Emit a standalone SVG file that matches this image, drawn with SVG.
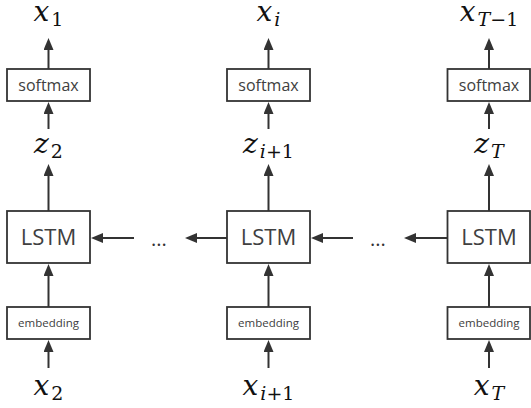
<svg xmlns="http://www.w3.org/2000/svg" width="531" height="408" viewBox="0 0 531 408">
<style>
.box{fill:#fff;stroke:#333;stroke-width:1.8}
.lbl{font-family:"Open Sans","Noto Sans",sans-serif;fill:#404040;text-anchor:middle}
.sm{font-size:16px}
.ls{font-size:22px}
.em{font-size:11.5px}
.math{font-family:"DejaVu Serif","Liberation Serif",serif;font-size:28px;fill:#111;text-anchor:middle}
.it{font-style:italic}
.sub{font-size:19px}
.conn line{stroke:#333;stroke-width:2}
.dots{font-family:"Open Sans",sans-serif;font-size:20px;fill:#333;text-anchor:middle}
</style>
<defs>
<marker id="ah" markerUnits="userSpaceOnUse" markerWidth="12" markerHeight="10" refX="5" refY="5" orient="auto">
<path d="M0,0 L12,5 L0,10 z" fill="#333"/>
</marker>
</defs>
<g class="conn">
<line x1="48.5" y1="69" x2="48.5" y2="45" marker-end="url(#ah)"/>
<line x1="48.5" y1="129" x2="48.5" y2="109" marker-end="url(#ah)"/>
<line x1="48.5" y1="211" x2="48.5" y2="171" marker-end="url(#ah)"/>
<line x1="48.5" y1="307" x2="48.5" y2="271" marker-end="url(#ah)"/>
<line x1="48.5" y1="368" x2="48.5" y2="347" marker-end="url(#ah)"/>
<line x1="268.5" y1="69" x2="268.5" y2="45" marker-end="url(#ah)"/>
<line x1="268.5" y1="129" x2="268.5" y2="109" marker-end="url(#ah)"/>
<line x1="268.5" y1="211" x2="268.5" y2="171" marker-end="url(#ah)"/>
<line x1="268.5" y1="307" x2="268.5" y2="271" marker-end="url(#ah)"/>
<line x1="268.5" y1="368" x2="268.5" y2="347" marker-end="url(#ah)"/>
<line x1="489" y1="69" x2="489" y2="45" marker-end="url(#ah)"/>
<line x1="489" y1="129" x2="489" y2="109" marker-end="url(#ah)"/>
<line x1="489" y1="211" x2="489" y2="171" marker-end="url(#ah)"/>
<line x1="489" y1="307" x2="489" y2="271" marker-end="url(#ah)"/>
<line x1="489" y1="368" x2="489" y2="347" marker-end="url(#ah)"/>
<line x1="134" y1="238" x2="98" y2="238" marker-end="url(#ah)"/>
<line x1="227" y1="238" x2="192" y2="238" marker-end="url(#ah)"/>
<line x1="353" y1="238" x2="318" y2="238" marker-end="url(#ah)"/>
<line x1="448" y1="238" x2="411" y2="238" marker-end="url(#ah)"/>
</g>
<text class="dots" x="159" y="246">...</text>
<text class="dots" x="378" y="246">...</text>
<g id="col1">
<g id="x1"><text class="math" x="48.5" y="21"><tspan class="it">x</tspan><tspan class="sub" dx="2" dy="5">1</tspan></text></g>
<g id="softmax1"><rect class="box" x="7" y="69" width="83" height="32"/><text class="lbl sm" x="48.5" y="91">softmax</text></g>
<g id="z2"><text class="math" x="48.5" y="153"><tspan class="it">z</tspan><tspan class="sub" dx="2" dy="5">2</tspan></text></g>
<g id="lstm1"><rect class="box" x="7" y="211" width="83" height="52"/><text class="lbl ls" x="48.5" y="245">LSTM</text></g>
<g id="emb1"><rect class="box" x="7" y="307" width="83" height="32"/><text class="lbl em" x="48.5" y="327">embedding</text></g>
<g id="x2"><text class="math" x="48.5" y="395"><tspan class="it">x</tspan><tspan class="sub" dx="2" dy="5">2</tspan></text></g>
</g>
<g id="col2">
<g id="xi"><text class="math" x="268.5" y="21"><tspan class="it">x</tspan><tspan class="sub it" dx="2" dy="5">i</tspan></text></g>
<g id="softmax2"><rect class="box" x="227" y="69" width="83" height="32"/><text class="lbl sm" x="268.5" y="91">softmax</text></g>
<g id="zi1"><text class="math" x="268.5" y="153"><tspan class="it">z</tspan><tspan class="sub it" dx="2" dy="5">i</tspan><tspan class="sub">+1</tspan></text></g>
<g id="lstm2"><rect class="box" x="227" y="211" width="83" height="52"/><text class="lbl ls" x="268.5" y="245">LSTM</text></g>
<g id="emb2"><rect class="box" x="227" y="307" width="83" height="32"/><text class="lbl em" x="268.5" y="327">embedding</text></g>
<g id="xi1"><text class="math" x="268.5" y="395"><tspan class="it">x</tspan><tspan class="sub it" dx="2" dy="5">i</tspan><tspan class="sub">+1</tspan></text></g>
</g>
<g id="col3">
<g id="xT1"><text class="math" x="489" y="21"><tspan class="it">x</tspan><tspan class="sub it" dx="2" dy="5">T</tspan><tspan class="sub">−1</tspan></text></g>
<g id="softmax3"><rect class="box" x="447.5" y="69" width="82.5" height="32"/><text class="lbl sm" x="489" y="91">softmax</text></g>
<g id="zT"><text class="math" x="489" y="153"><tspan class="it">z</tspan><tspan class="sub it" dx="2" dy="5">T</tspan></text></g>
<g id="lstm3"><rect class="box" x="447.5" y="211" width="82.5" height="52"/><text class="lbl ls" x="489" y="245">LSTM</text></g>
<g id="emb3"><rect class="box" x="447.5" y="307" width="82.5" height="32"/><text class="lbl em" x="489" y="327">embedding</text></g>
<g id="xT"><text class="math" x="489" y="395"><tspan class="it">x</tspan><tspan class="sub it" dx="2" dy="5">T</tspan></text></g>
</g>
</svg>
